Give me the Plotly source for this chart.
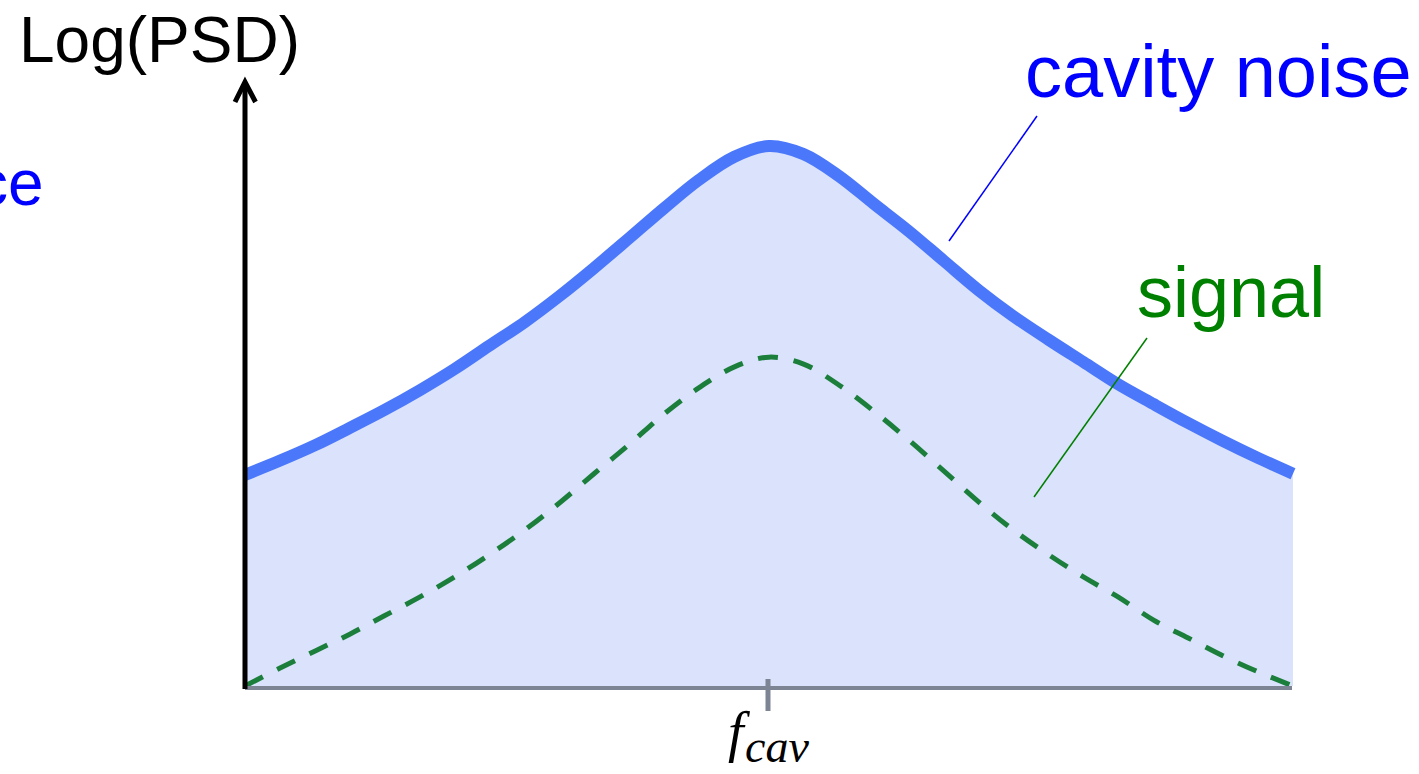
import plotly.graph_objects as go

# Frequency (arbitrary units, cavity resonance near 5) and Log(PSD) levels
freq = [0.00, 0.33, 0.67, 1.00, 1.33, 1.67, 2.00, 2.33, 2.67, 3.00, 3.33, 3.67,
        4.00, 4.33, 4.67, 5.00, 5.33, 5.67, 6.00, 6.33, 6.67, 7.00, 7.33, 7.67,
        8.00, 8.33, 8.67, 9.00, 9.33, 9.67, 10.00]
log_psd_noise = [3.91, 4.17, 4.46, 4.78, 5.11, 5.48, 5.87, 6.30, 6.74, 7.22, 7.74, 8.30,
                 8.85, 9.37, 9.80, 10.00, 9.85, 9.44, 8.93, 8.43, 7.87, 7.33, 6.85, 6.41,
                 6.00, 5.59, 5.22, 4.87, 4.54, 4.22, 3.93]
log_psd_signal = [0.00, 0.33, 0.65, 0.96, 1.30, 1.65, 2.02, 2.43, 2.89, 3.39, 3.93, 4.48,
                  5.04, 5.52, 5.91, 6.09, 5.96, 5.57, 5.09, 4.56, 3.98, 3.41, 2.89, 2.43,
                  2.02, 1.65, 1.22, 0.89, 0.56, 0.26, 0.00]

f_cav = 5.0
f_min, f_max = 0.0, 10.0

W, H = 1419, 774

# pixel <-> data helpers for the schematic layout
X0_PX, PX_PER_F = 245.0, 104.8
Y0_PX, PX_PER_L = 686.0, 54.0


def fx(px):
    return (px - X0_PX) / PX_PER_F


def fy(py):
    return (Y0_PX - py) / PX_PER_L


NOISE_LINE = "#4B78FA"
NOISE_FILL = "#DAE2FC"
SIGNAL_LINE = "#1B7F3B"
AXIS_GREY = "#7D8594"

fig = go.Figure()

# shaded area under the cavity noise
fig.add_trace(go.Scatter(
    x=freq, y=log_psd_noise, mode="lines",
    line=dict(width=0, shape="spline", smoothing=1.0),
    fill="tozeroy", fillcolor=NOISE_FILL, hoverinfo="skip", showlegend=False,
))
# cavity noise curve
fig.add_trace(go.Scatter(
    x=freq, y=log_psd_noise, mode="lines",
    line=dict(color=NOISE_LINE, width=12, shape="spline", smoothing=1.0),
    showlegend=False,
))
# signal curve
fig.add_trace(go.Scatter(
    x=freq, y=log_psd_signal, mode="lines",
    line=dict(color=SIGNAL_LINE, width=5, dash="20px,16px", shape="spline", smoothing=1.0),
    showlegend=False,
))

shapes = [
    # frequency axis
    dict(type="line", xref="x", yref="y", layer="above",
         x0=f_min, x1=fx(1292), y0=fy(688), y1=fy(688),
         line=dict(color=AXIS_GREY, width=4)),
    # tick at the cavity frequency
    dict(type="line", xref="x", yref="y", layer="above",
         x0=fx(768), x1=fx(768), y0=fy(679), y1=fy(711),
         line=dict(color=AXIS_GREY, width=5)),
    # Log(PSD) axis with open arrow head
    dict(type="line", xref="x", yref="y", layer="above",
         x0=f_min, x1=f_min, y0=fy(689), y1=fy(83),
         line=dict(color="black", width=5)),
    dict(type="path", xref="x", yref="y", layer="above",
         path=f"M {fx(235)},{fy(102)} L {fx(245)},{fy(82)} L {fx(255.5)},{fy(102)}",
         line=dict(color="black", width=5)),
    # label leader lines
    dict(type="line", xref="x", yref="y", layer="above",
         x0=fx(1037), x1=fx(949), y0=fy(116), y1=fy(241),
         line=dict(color="#0000FF", width=1.5)),
    dict(type="line", xref="x", yref="y", layer="above",
         x0=fx(1147), x1=fx(1034), y0=fy(338), y1=fy(497),
         line=dict(color="#008000", width=1.5)),
]

SANS = "Liberation Sans, Arial, sans-serif"
SERIF = "Liberation Serif, DejaVu Serif, serif"
annotations = [
    dict(text="Log(PSD)", x=fx(159), y=fy(40), xanchor="center", yanchor="middle",
         font=dict(family=SANS, size=64, color="black")),
    dict(text="cavity noise", x=fx(1023), y=fy(71), xanchor="left", yanchor="middle",
         font=dict(family=SANS, size=74, color="#0000FF")),
    dict(text="signal", x=fx(1135), y=fy(292), xanchor="left", yanchor="middle",
         font=dict(family=SANS, size=72, color="#008000")),
    dict(text="ce", x=fx(46), y=fy(183), xanchor="right", yanchor="middle",
         font=dict(family=SANS, size=64, color="#0000FF")),
    # f_cav tick label: italic f with its subscript
    dict(text="<i>f</i>", x=fx(739), y=fy(732), xanchor="center", yanchor="middle",
         font=dict(family=SERIF, size=56, color="black")),
    dict(text="<i>cav</i>", x=fx(777), y=fy(746), xanchor="center", yanchor="middle",
         font=dict(family=SERIF, size=46, color="black")),
]
for a in annotations:
    a.update(xref="x", yref="y", showarrow=False)

fig.update_layout(
    width=W, height=H, autosize=False,
    margin=dict(l=0, r=0, t=0, b=0),
    paper_bgcolor="white", plot_bgcolor="white",
    xaxis=dict(visible=False, range=[fx(0), fx(W)], fixedrange=True),
    yaxis=dict(visible=False, range=[fy(H), fy(0)], fixedrange=True),
    shapes=shapes, annotations=annotations, showlegend=False,
)

fig.write_html("out.html", config=dict(displayModeBar=False))
